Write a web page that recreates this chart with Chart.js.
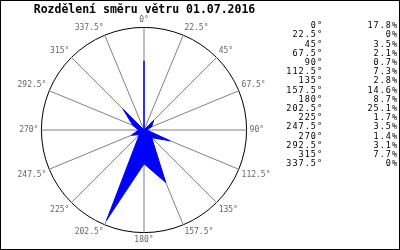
<!DOCTYPE html>
<html>
<head>
<meta charset="utf-8">
<script src="https://cdn.jsdelivr.net/npm/chart.js@4"></script>
<style>
  body { margin: 0; background: white; }
  #wrap { width: 400px; height: 250px; position: relative; }
</style>
</head>
<body>
<div id="wrap"><canvas id="myChart"></canvas></div>
<script>
// smery vetru a jejich podil v %
const smery = ["0°", "22.5°", "45°", "67.5°", "90°", "112.5°", "135°", "157.5°",
  "180°", "202.5°", "225°", "247.5°", "270°", "292.5°", "315°", "337.5°"]
const podily = [17.8, 0, 3.5, 2.1, 0.7, 7.3, 2.8, 14.6, 8.7, 25.1, 1.7, 3.5, 1.4, 3.1, 7.7, 0]
const nadpis = "Rozdělení směru větru 01.07.2016"

// tabulka vpravo + ramecek
const tabulka = {
  id: "tabulka",
  afterDraw(chart) {
    const ctx = chart.ctx
    ctx.save()
    ctx.font = "8.5px 'DejaVu Sans Mono'"
    ctx.letterSpacing = "1px"
    ctx.fillStyle = "#000"
    ctx.textBaseline = "middle"
    ctx.textAlign = "right"
    for (let i = 0; i < smery.length; i++) {
      const y = 26 + i * 9.2
      ctx.fillText(smery[i], 323, y)
      ctx.fillText(podily[i] + "%", 398, y)
    }
    ctx.strokeStyle = "#000"
    ctx.lineWidth = 1
    ctx.strokeRect(0.5, 0.5, 399, 249)
    ctx.restore()
  }
}

function renderGrafica() {
  const config = {
    type: "radar",
    data: {
      labels: smery,
      datasets: [{
        label: "Směr větru",
        data: podily,
        backgroundColor: "#0000ff",
        borderColor: "#0000ff",
        borderWidth: 1,
        pointRadius: 0,
        fill: true,
        tension: 0
      }]
    },
    options: {
      responsive: true,
      maintainAspectRatio: false,
      animation: false,
      layout: { padding: { left: 2, right: 113, top: 0, bottom: 4 } },
      plugins: {
        legend: { display: false },
        tooltip: { enabled: false },
        title: {
          display: true,
          text: nadpis,
          color: "#000",
          font: { family: "'DejaVu Sans Mono'", size: 11.5, weight: "bold" },
          padding: { top: 3, bottom: -2 }
        }
      },
      scales: {
        r: {
          min: 0,
          max: 26.4,
          ticks: { display: false, stepSize: 26.4 },
          grid: { circular: true, color: "#000", lineWidth: 1 },
          angleLines: { color: "#808080", lineWidth: 1 },
          pointLabels: {
            color: "#666",
            padding: 3,
            font: { family: "'DejaVu Sans Mono'", size: 8 }
          }
        }
      }
    },
    plugins: [tabulka]
  }
  new Chart(document.getElementById("myChart"), config)
}

renderGrafica()
</script>
</body>
</html>
